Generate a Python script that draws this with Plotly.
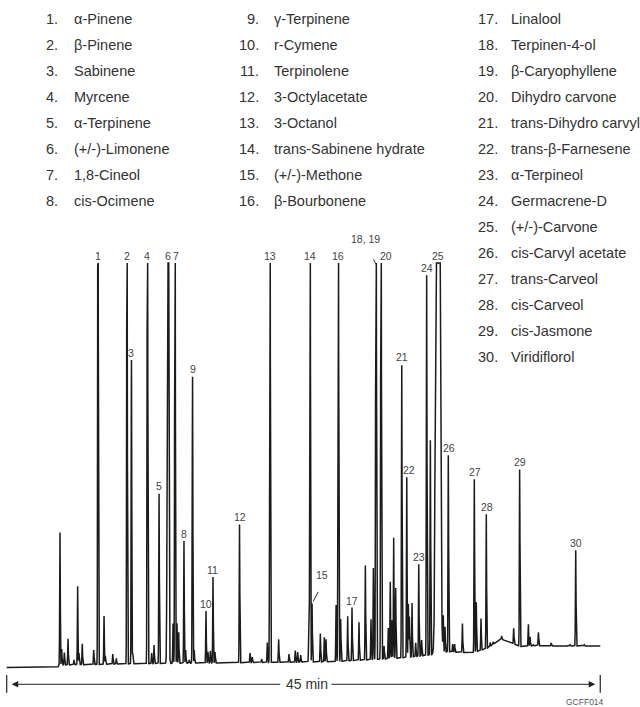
import numpy as np
import plotly.graph_objects as go

# ---- Compound key (numbered in elution order) ----
compounds = [
    "α-Pinene", "β-Pinene", "Sabinene", "Myrcene", "α-Terpinene",
    "(+/-)-Limonene", "1,8-Cineol", "cis-Ocimene",
    "γ-Terpinene", "r-Cymene", "Terpinolene", "3-Octylacetate", "3-Octanol",
    "trans-Sabinene hydrate", "(+/-)-Methone", "β-Bourbonene",
    "Linalool", "Terpinen-4-ol", "β-Caryophyllene", "Dihydro carvone",
    "trans-Dihydro carvyl", "trans-β-Farnesene", "α-Terpineol", "Germacrene-D",
    "(+/-)-Carvone", "cis-Carvyl acetate", "trans-Carveol", "cis-Carveol",
    "cis-Jasmone", "Viridiflorol",
]

# ---- Labelled peaks: retention time (min), apex response (full scale = 100) ----
peak_labels = ["1", "2", "3", "4", "5", "6", "7", "8", "9", "10", "11", "12",
               "13", "14", "15", "16", "17", "18, 19", "20", "21", "22", "23",
               "24", "25", "26", "27", "28", "29", "30"]
peak_times = [6.92, 9.12, 9.46, 10.67, 11.55, 12.23, 12.76, 13.44, 14.09,
              15.11, 15.64, 17.65, 19.96, 23.00, 23.15, 25.14, 26.18, 28.00,
              28.38, 29.95, 30.33, 31.24, 31.84, 32.70, 33.48, 35.45, 36.36,
              38.89, 43.14]
peak_apex = [150, 150, 76.0, 150, 43.1, 220, 150, 31.3, 72.1,
             14.0, 22.4, 35.5, 150, 150, 15.9, 150, 14.8, 150,
             150, 75.0, 47.2, 25.5, 97.0, 320, 52.5, 46.7, 37.9,
             49.1, 29.0]
peak_sigma = [0.022, 0.022, 0.022, 0.024, 0.022, 0.045, 0.024, 0.022, 0.024,
              0.022, 0.022, 0.022, 0.024, 0.024, 0.022, 0.024, 0.022, 0.028,
              0.026, 0.022, 0.022, 0.022, 0.024, 0.11, 0.022, 0.022, 0.022,
              0.022, 0.022]

# ---- Unlabelled minor peaks: retention time (min), apex response ----
minor_times = [4.04, 4.17, 4.37, 4.65, 5.10, 5.38, 5.48, 5.73, 6.60, 7.38,
               7.48, 8.04, 8.31, 9.55, 10.99, 11.17, 12.61, 12.91, 13.04,
               13.57, 13.84, 14.22, 15.26, 15.44, 15.79, 18.45, 18.62, 19.33,
               19.76, 20.62, 21.40, 21.88, 22.06, 22.29, 22.90, 23.78, 24.08,
               24.21, 24.97, 25.32, 25.85, 26.71, 27.19, 27.62, 27.80, 28.61,
               28.93, 29.08, 29.21, 29.34, 29.49, 30.45, 30.53, 30.73, 31.01,
               31.46, 32.12, 32.47, 32.93, 33.10, 33.23, 33.81, 33.96, 34.55,
               35.60, 35.96, 36.66, 36.89, 37.53, 38.44, 39.55, 39.68, 39.93,
               40.31, 41.28, 42.71, 43.79]
minor_apex = [33.4, 4.6, 3.7, 7.1, 1.9, 20.1, 3.6, 5.9, 4.3, 12.7,
              2.9, 3.3, 2.3, 3.8, 3.6, 5.6, 10.9, 11.0, 8.7,
              4.3, 1.9, 4.3, 3.9, 4.1, 3.8, 3.6, 2.6, 2.1,
              6.2, 7.0, 3.3, 4.2, 3.8, 3.1, 7.6, 8.4, 7.5,
              7.0, 15.5, 12.0, 12.7, 11.2, 25.3, 11.9, 24.6, 5.3,
              9.8, 21.2, 11.7, 32.1, 19.7, 15.7, 12.6, 16.0, 6.1,
              6.8, 56.2, 18.3, 48.0, 12.5, 10.1, 5.8, 5.8, 10.9,
              16.1, 12.1, 6.2, 6.4, 7.8, 9.7, 10.7, 7.6, 5.6,
              8.7, 6.1, 5.6, 5.6]

# ---- Baseline drift: time (min), level ----
base_times = [0.0, 3.85, 4.0, 9.6, 14.7, 24.5, 29.8, 32.1, 33.4, 35.3,
              36.4, 37.0, 37.5, 38.3, 38.9, 40.3, 42.0, 45.0]
base_level = [0.0, 0.0, 0.6, 0.9, 1.1, 1.4, 2.3, 3.1, 3.9, 3.6,
              4.7, 6.0, 7.0, 6.0, 5.2, 5.4, 5.3, 5.3]

FULL_SCALE = 100.0
RUN_MINUTES = 45

# ---- Build the detector trace ----
t = np.arange(0.0, RUN_MINUTES + 1e-9, 0.004)
baseline = np.interp(t, base_times, base_level)
signal = baseline.copy()


def add_peak(tr, apex, sigma):
    height = apex - np.interp(tr, base_times, base_level)
    return height * np.exp(-0.5 * ((t - tr) / sigma) ** 2)


for tr, ap, sg in zip(peak_times, peak_apex, peak_sigma):
    signal += add_peak(tr, ap, sg)
for tr, ap in zip(minor_times, minor_apex):
    signal += add_peak(tr, ap, 0.022)
signal = np.minimum(signal, FULL_SCALE)

fig = go.Figure()
fig.add_trace(go.Scatter(x=t, y=signal, mode="lines",
                         line=dict(color="#1b1b1b", width=1.5),
                         hoverinfo="skip", showlegend=False))

# ---- Geometry: 640x707 canvas, 13.19 px per minute, 4.045 px per unit ----
W, H = 640, 707
PX_PER_MIN = 13.19
PX_PER_UNIT = 4.045
X0_PX = 6.7          # pixel column of t = 0
Y0_PX = 667.5        # pixel row of response = 0
x_range = [-X0_PX / PX_PER_MIN, (W - X0_PX) / PX_PER_MIN]
y_range = [(Y0_PX - H) / PX_PER_UNIT, Y0_PX / PX_PER_UNIT]

FONT = "Liberation Sans, Arial, sans-serif"
annotations = []

# Peak number labels
label_dx = {"6": -0.03, "7": 0.06, "20": 0.35, "22": 0.19, "26": 0.08,
            "27": 0.08, "28": 0.05, "15": 0.75, "18, 19": -0.78}
label_dy = {"15": 5.1, "18, 19": 4.2}
gap = 1.75
for lab, tr, ap in zip(peak_labels, peak_times, peak_apex):
    top = min(ap, FULL_SCALE)
    annotations.append(dict(
        x=tr + label_dx.get(lab, 0.0), y=top + gap + label_dy.get(lab, 0.0),
        xref="x", yref="y", text=lab, showarrow=False,
        xanchor="center", yanchor="middle",
        font=dict(family=FONT, size=10.5, color="#444")))

shapes = []
# Leader lines for offset labels
i15 = peak_labels.index("15")
t15, a15 = peak_times[i15], peak_apex[i15]
shapes.append(dict(type="line", xref="x", yref="y",
                   x0=t15 + 0.08, y0=a15 + 0.4, x1=t15 + 0.47, y1=a15 + 2.8,
                   line=dict(color="#333", width=1)))
i18 = peak_labels.index("18, 19")
t18 = peak_times[i18]
shapes.append(dict(type="line", xref="x", yref="y",
                   x0=t18, y0=FULL_SCALE - 0.4, x1=t18 - 0.18, y1=FULL_SCALE + 0.9,
                   line=dict(color="#333", width=1)))

# Run-time bar: |<---- 45 min ---->|
bar_y = (Y0_PX - 684.3) / PX_PER_UNIT
bar_lo = (Y0_PX - 692.7) / PX_PER_UNIT
bar_hi = (Y0_PX - 675.0) / PX_PER_UNIT
for xb in (0, RUN_MINUTES):
    shapes.append(dict(type="line", xref="x", yref="y", x0=xb, x1=xb,
                       y0=bar_lo, y1=bar_hi, line=dict(color="#222", width=1.2)))
text_mid = RUN_MINUTES / 2 + 0.27
annotations.append(dict(x=0.38, y=bar_y, ax=text_mid - 1.92, ay=bar_y,
                        xref="x", yref="y", axref="x", ayref="y", text="",
                        showarrow=True, arrowhead=2, arrowsize=1.3, arrowwidth=1,
                        arrowcolor="#222", standoff=0, startstandoff=0))
annotations.append(dict(x=RUN_MINUTES - 0.38, y=bar_y, ax=text_mid + 1.74, ay=bar_y,
                        xref="x", yref="y", axref="x", ayref="y", text="",
                        showarrow=True, arrowhead=2, arrowsize=1.3, arrowwidth=1,
                        arrowcolor="#222", standoff=0, startstandoff=0))
annotations.append(dict(x=text_mid, y=bar_y, xref="x", yref="y",
                        text=f"{RUN_MINUTES} min", showarrow=False,
                        xanchor="center", yanchor="middle",
                        font=dict(family=FONT, size=14, color="#333")))
annotations.append(dict(x=43.85, y=(Y0_PX - 702) / PX_PER_UNIT, xref="x", yref="y",
                        text="GCFF014", showarrow=False, xanchor="center",
                        yanchor="middle",
                        font=dict(family=FONT, size=8.5, color="#555")))

# ---- Compound key in three columns ----
col_start = [0, 8, 16]
num_right = [60, 261, 500]
name_left = [72, 272.3, 509]
for i, name in enumerate(compounds):
    col = 0 if i < 8 else (1 if i < 16 else 2)
    row = i - col_start[col]
    py = 19 + 26 * row
    annotations.append(dict(x=num_right[col] / W, y=1 - py / H, xref="paper", yref="paper",
                            text=f"{i + 1}.", showarrow=False, xanchor="right",
                            yanchor="middle",
                            font=dict(family=FONT, size=14.5, color="#333")))
    annotations.append(dict(x=name_left[col] / W, y=1 - py / H, xref="paper", yref="paper",
                            text=name, showarrow=False, xanchor="left",
                            yanchor="middle",
                            font=dict(family=FONT, size=14.5, color="#333")))

fig.update_layout(
    width=W, height=H,
    margin=dict(l=0, r=0, t=0, b=0),
    paper_bgcolor="white", plot_bgcolor="white",
    xaxis=dict(range=x_range, visible=False, domain=[0, 1]),
    yaxis=dict(range=y_range, visible=False, domain=[0, 1]),
    annotations=annotations, shapes=shapes,
    showlegend=False,
)

fig.write_html("out.html")
